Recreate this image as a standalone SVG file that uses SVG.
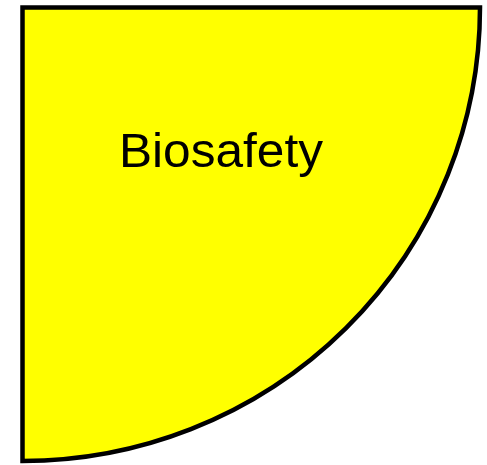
<svg xmlns="http://www.w3.org/2000/svg" width="487" height="465" viewBox="0 0 487 465">
<style>
.shape{fill:#ffff00;stroke:#000000;stroke-width:4.5;stroke-linejoin:miter}
.label{font-family:"Liberation Sans",Arial,sans-serif;font-size:48px;fill:#000000}
</style>
<rect width="487" height="465" fill="#ffffff"/>
<g id="biosafety">
<path class="shape" d="M22.5,7.5 L480,7.5 A457.5,453.5 0 0 1 22.5,461 Z"/>
<text class="label" x="119" y="167" textLength="204" lengthAdjust="spacingAndGlyphs">Biosafety</text>
</g>
</svg>
